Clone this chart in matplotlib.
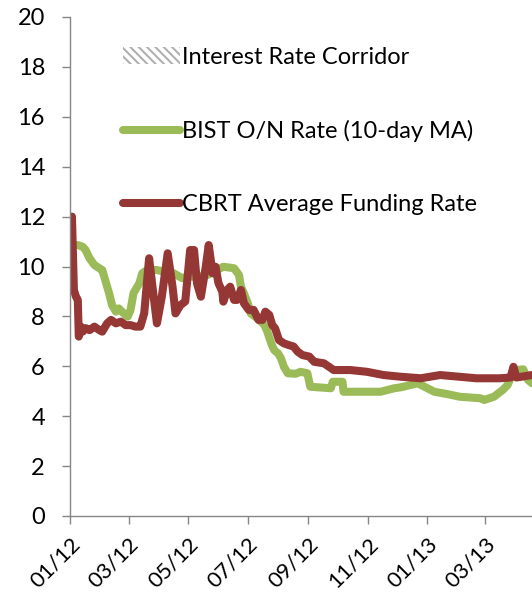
import numpy as np
import pandas as pd
import matplotlib
matplotlib.use("Agg")
import matplotlib.pyplot as plt
import matplotlib.dates as mdates
import matplotlib.patches as mpatches

plt.rcParams['font.family'] = ['Lato', 'DejaVu Sans']
plt.rcParams['hatch.linewidth'] = 1.5

# CBRT average funding rate (%)
cbrt_dates = ["2012-01-03", "2012-01-05", "2012-01-07", "2012-01-09", "2012-01-10", "2012-01-12",
              "2012-01-14", "2012-01-17", "2012-01-21", "2012-01-26", "2012-01-31", "2012-02-03",
              "2012-02-08", "2012-02-12", "2012-02-17", "2012-02-22", "2012-02-27", "2012-03-03",
              "2012-03-08", "2012-03-13", "2012-03-17", "2012-03-22", "2012-03-25", "2012-03-30",
              "2012-04-04", "2012-04-10", "2012-04-15", "2012-04-18", "2012-04-23", "2012-04-28",
              "2012-05-03", "2012-05-07", "2012-05-10", "2012-05-14", "2012-05-19", "2012-05-22",
              "2012-05-26", "2012-05-29", "2012-06-01", "2012-06-05", "2012-06-06", "2012-06-10",
              "2012-06-13", "2012-06-17", "2012-06-20", "2012-06-24", "2012-06-27", "2012-07-02",
              "2012-07-07", "2012-07-12", "2012-07-16", "2012-07-19", "2012-07-23", "2012-07-26",
              "2012-07-29", "2012-08-02", "2012-08-07", "2012-08-12", "2012-08-17", "2012-08-21",
              "2012-08-26", "2012-09-02", "2012-09-07", "2012-09-17", "2012-09-27", "2012-10-14",
              "2012-10-31", "2012-11-17", "2012-12-05", "2012-12-25", "2013-01-14", "2013-02-03",
              "2013-02-20", "2013-03-16", "2013-03-27", "2013-03-30", "2013-04-02", "2013-04-18"]
cbrt_rate = [12.0, 9.06, 8.8, 8.66, 7.19, 7.59,
             7.39, 7.53, 7.45, 7.59, 7.45, 7.39,
             7.72, 7.86, 7.72, 7.79, 7.65, 7.65,
             7.59, 7.59, 8.13, 10.33, 9.33, 7.72,
             8.79, 10.53, 9.19, 8.12, 8.45, 8.6,
             10.66, 10.66, 9.33, 8.79, 9.99, 10.86,
             9.73, 9.99, 9.33, 8.99, 8.59, 9.06,
             9.19, 8.66, 8.66, 9.06, 8.53, 8.26,
             8.26, 7.86, 7.86, 8.19, 8.06, 7.66,
             7.52, 7.05, 6.92, 6.85, 6.79, 6.59,
             6.45, 6.39, 6.18, 6.12, 5.85, 5.85,
             5.78, 5.65, 5.58, 5.52, 5.65, 5.58,
             5.52, 5.52, 5.55, 5.98, 5.55, 5.65]

# BIST overnight rate, 10-day moving average (%)
bist_dates = ["2012-01-09", "2012-01-14", "2012-01-17", "2012-01-21", "2012-01-26", "2012-01-31",
              "2012-02-03", "2012-02-06", "2012-02-10", "2012-02-13", "2012-02-17", "2012-02-20",
              "2012-02-25", "2012-02-29", "2012-03-03", "2012-03-06", "2012-03-12", "2012-03-15",
              "2012-03-20", "2012-03-30", "2012-04-06", "2012-04-16", "2012-04-25", "2012-04-30",
              "2012-05-10", "2012-05-21", "2012-05-27", "2012-06-06", "2012-06-17", "2012-06-22",
              "2012-06-24", "2012-06-27", "2012-07-01", "2012-07-04", "2012-07-11", "2012-07-18",
              "2012-07-21", "2012-07-25", "2012-07-28", "2012-08-01", "2012-08-04", "2012-08-07",
              "2012-08-11", "2012-08-19", "2012-08-24", "2012-08-31", "2012-09-03", "2012-09-24",
              "2012-09-26", "2012-10-06", "2012-10-07", "2012-11-14", "2012-11-28", "2012-12-05",
              "2012-12-22", "2013-01-08", "2013-01-22", "2013-02-03", "2013-02-24", "2013-02-28",
              "2013-03-10", "2013-03-19", "2013-03-24", "2013-03-27", "2013-04-02", "2013-04-09",
              "2013-04-14", "2013-04-18"]
bist_rate = [10.86, 10.79, 10.66, 10.33, 10.06, 9.93,
             9.86, 9.46, 8.93, 8.46, 8.19, 8.32,
             8.12, 7.99, 8.26, 8.93, 9.33, 9.73,
             9.86, 9.86, 9.79, 9.73, 9.53, 9.6,
             9.59, 9.66, 9.79, 9.99, 9.93, 9.66,
             9.19, 8.93, 8.53, 8.12, 7.92, 7.66,
             7.39, 6.92, 6.65, 6.52, 6.32, 5.98,
             5.72, 5.7, 5.78, 5.72, 5.18, 5.12,
             5.38, 5.38, 4.98, 4.98, 5.12, 5.16,
             5.32, 4.98, 4.88, 4.78, 4.72, 4.65,
             4.78, 5.05, 5.25, 5.52, 5.85, 5.88,
             5.45, 5.32]

labels = ["Interest Rate Corridor", "BIST O/N Rate (10-day MA)", "CBRT Average Funding Rate"]

green = '#9bbb59'
red = '#953735'
grey = '#868686'

fig = plt.figure(figsize=(5.32, 6.0), dpi=100)
ax = fig.add_axes([70 / 532, 84 / 600, 462 / 532, 499 / 600])

l_bist, = ax.plot(pd.to_datetime(bist_dates), bist_rate, color=green, lw=5.8,
                  solid_capstyle='round', solid_joinstyle='round')
l_cbrt, = ax.plot(pd.to_datetime(cbrt_dates), cbrt_rate, color=red, lw=5.8,
                  solid_capstyle='round', solid_joinstyle='round')

ax.set_ylim(0, 20)
ax.set_yticks(np.arange(0, 21, 2))
ax.set_xlim(pd.Timestamp("2012-01-01"), pd.Timestamp("2013-04-18"))
ax.xaxis.set_major_locator(mdates.MonthLocator(bymonth=[1, 3, 5, 7, 9, 11]))
ax.xaxis.set_major_formatter(mdates.DateFormatter('%m/%y'))

for s in ['top', 'right']:
    ax.spines[s].set_visible(False)
for s in ['left', 'bottom']:
    ax.spines[s].set_color(grey)
    ax.spines[s].set_linewidth(1)

ax.tick_params(axis='both', direction='out', length=6, width=1, color=grey,
               labelsize=17, labelcolor='black')
ax.tick_params(axis='y', pad=12)
ax.tick_params(axis='x', pad=7, labelsize=16)
for lab in ax.get_xticklabels():
    lab.set_rotation(45)
    lab.set_ha('right')
    lab.set_rotation_mode('anchor')

corridor = mpatches.Patch(facecolor='white', edgecolor='#b0b0b0', hatch='\\\\\\\\', lw=0)
leg = ax.legend([corridor, l_bist, l_cbrt], labels, loc='upper left',
                bbox_to_anchor=(123 / 532, 1 - 47 / 600), bbox_transform=fig.transFigure,
                frameon=False, fontsize=17, labelspacing=2.2, handlelength=2.4,
                handletextpad=0.12, borderpad=0, borderaxespad=0)

fig.savefig('out.png', dpi=100)
